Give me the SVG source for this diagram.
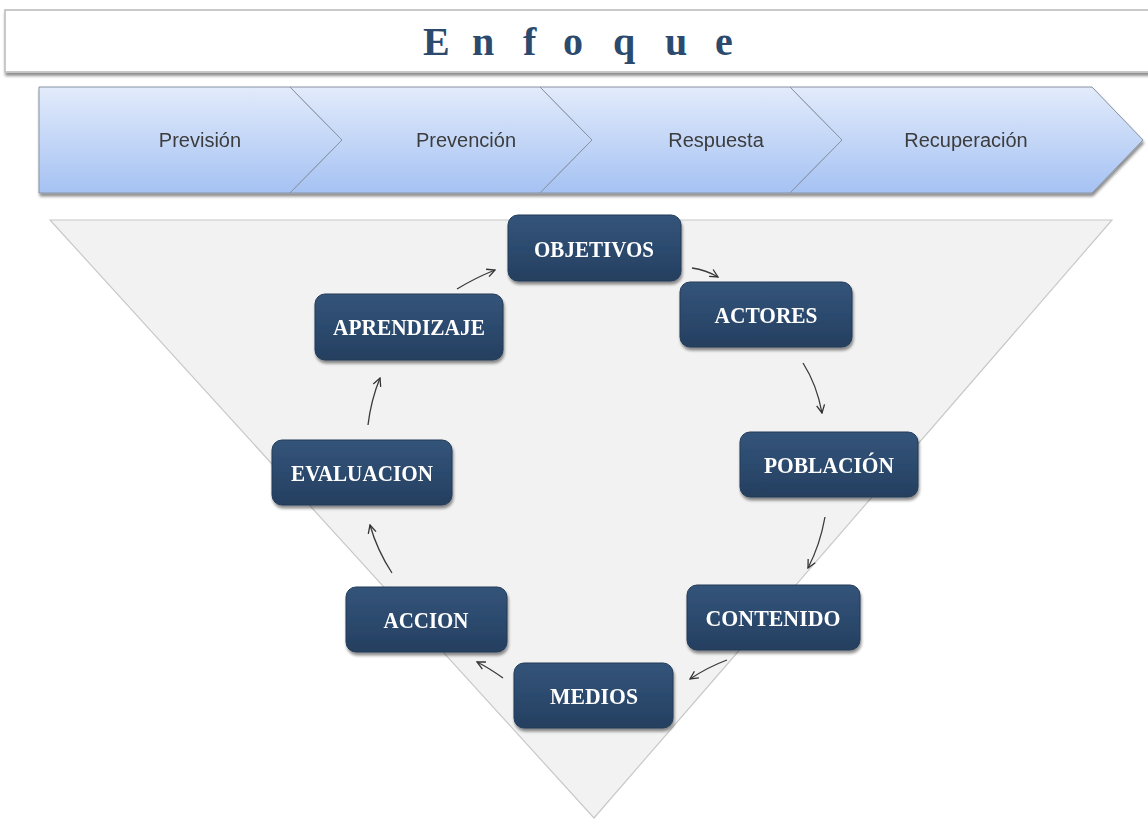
<svg xmlns="http://www.w3.org/2000/svg" width="1148" height="819" viewBox="0 0 1148 819">
<style>
.lbl{font-family:"Liberation Sans","Noto Sans",sans-serif;font-size:20px;fill:#3c3c3c;text-anchor:middle}
.box{fill:url(#bg);stroke:#223b58;stroke-width:1}
.bt{font-family:"Liberation Serif","DejaVu Serif",serif;font-weight:bold;font-size:23px;fill:#ffffff;text-anchor:middle}
.chev{fill:url(#cg);stroke:#8893a3;stroke-width:1}
.con{fill:none;stroke:#3a3a3a;stroke-width:1.3;marker-end:url(#ah)}
</style>
<defs>
<linearGradient id="cg" x1="0" y1="0" x2="0" y2="1">
<stop offset="0" stop-color="#e2ebfb"/>
<stop offset="1" stop-color="#a5c2f3"/>
</linearGradient>
<linearGradient id="bg" x1="0" y1="0" x2="0" y2="1">
<stop offset="0" stop-color="#345479"/>
<stop offset="0.5" stop-color="#2c4a6e"/>
<stop offset="1" stop-color="#253f60"/>
</linearGradient>
<filter id="sh" x="-10%" y="-10%" width="120%" height="130%">
<feGaussianBlur in="SourceAlpha" stdDeviation="1.6"/>
<feOffset dx="1" dy="2.5" result="o"/>
<feComponentTransfer><feFuncA type="linear" slope="0.45"/></feComponentTransfer>
<feMerge><feMergeNode/><feMergeNode in="SourceGraphic"/></feMerge>
</filter>
<marker id="ah" viewBox="0 0 10 10" refX="9" refY="5" markerWidth="10" markerHeight="10" markerUnits="userSpaceOnUse" orient="auto">
<path d="M1,1 L9,5 L1,9" fill="none" stroke="#333333" stroke-width="1.3"/>
</marker>
</defs>
<rect width="1148" height="819" fill="#ffffff"/>

<g id="title">
<rect x="5" y="10" width="1160" height="62" fill="#ffffff" stroke="#c4c4c4" stroke-width="1.8" filter="url(#sh)"/>
<text x="423 446 472 490 523 537 563 583 613 635 665 687 715" y="55" font-family="Liberation Serif, DejaVu Serif, serif" font-weight="bold" font-size="40" fill="#2c4a6e">E n f o q u e</text>
</g>

<g id="phases" filter="url(#sh)">
<g id="prevision">
<path class="chev" d="M39,87 L290,87 L342,140 L290,193 L39,193 Z"/>
<text class="lbl" x="200" y="147">Previsión</text>
</g>
<g id="prevencion">
<path class="chev" d="M290,87 L540,87 L592,140 L540,193 L290,193 L342,140 Z"/>
<text class="lbl" x="466" y="147">Prevención</text>
</g>
<g id="respuesta">
<path class="chev" d="M540,87 L790,87 L842,140 L790,193 L540,193 L592,140 Z"/>
<text class="lbl" x="716" y="147">Respuesta</text>
</g>
<g id="recuperacion">
<path class="chev" d="M790,87 L1092,87 L1143,140 L1092,193 L790,193 L842,140 Z"/>
<text class="lbl" x="966" y="147">Recuperación</text>
</g>
</g>

<g id="triangle">
<path d="M50,220 L1112,220 L594,818 Z" fill="#f2f2f2" stroke="#c8c8c8" stroke-width="1.2"/>
</g>

<g id="connectors">
<path class="con" d="M457,289 Q475,278 495,270"/>
<path class="con" d="M692,268 Q706,270 718,277"/>
<path class="con" d="M803,363 Q817,385 822,413"/>
<path class="con" d="M825,517 Q820,545 808,568"/>
<path class="con" d="M727,660 Q708,667 690,679"/>
<path class="con" d="M503,678 Q489,668 477,662"/>
<path class="con" d="M392,573 Q377,550 370,525"/>
<path class="con" d="M368,425 Q371,400 380,378"/>
</g>

<g id="objetivos" filter="url(#sh)">
<rect class="box" x="508" y="215" width="173" height="66" rx="10"/>
<text class="bt" x="594" y="257" textLength="120" lengthAdjust="spacingAndGlyphs">OBJETIVOS</text>
</g>
<g id="actores" filter="url(#sh)">
<rect class="box" x="680" y="282" width="172" height="65" rx="10"/>
<text class="bt" x="766" y="323" textLength="103" lengthAdjust="spacingAndGlyphs">ACTORES</text>
</g>
<g id="poblacion" filter="url(#sh)">
<rect class="box" x="740" y="432" width="178" height="65" rx="10"/>
<text class="bt" x="829" y="473" textLength="130" lengthAdjust="spacingAndGlyphs">POBLACIÓN</text>
</g>
<g id="contenido" filter="url(#sh)">
<rect class="box" x="687" y="585" width="173" height="65" rx="10"/>
<text class="bt" x="773" y="626" textLength="135" lengthAdjust="spacingAndGlyphs">CONTENIDO</text>
</g>
<g id="medios" filter="url(#sh)">
<rect class="box" x="514" y="663" width="159" height="65" rx="10"/>
<text class="bt" x="594" y="704" textLength="88" lengthAdjust="spacingAndGlyphs">MEDIOS</text>
</g>
<g id="accion" filter="url(#sh)">
<rect class="box" x="346" y="587" width="161" height="65" rx="10"/>
<text class="bt" x="426" y="628" textLength="85" lengthAdjust="spacingAndGlyphs">ACCION</text>
</g>
<g id="evaluacion" filter="url(#sh)">
<rect class="box" x="272" y="440" width="180" height="65" rx="10"/>
<text class="bt" x="362" y="481" textLength="142" lengthAdjust="spacingAndGlyphs">EVALUACION</text>
</g>
<g id="aprendizaje" filter="url(#sh)">
<rect class="box" x="315" y="294" width="188" height="66" rx="10"/>
<text class="bt" x="409" y="335" textLength="152" lengthAdjust="spacingAndGlyphs">APRENDIZAJE</text>
</g>
</svg>
